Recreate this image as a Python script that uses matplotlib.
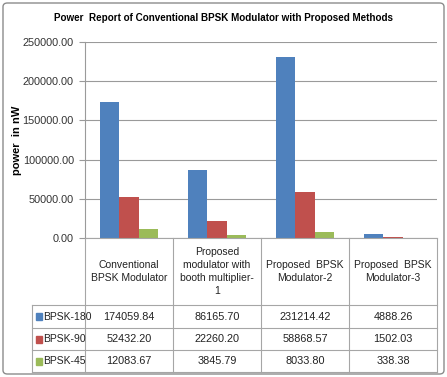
import matplotlib
matplotlib.use("Agg")
import matplotlib.pyplot as plt
from matplotlib.patches import FancyBboxPatch, Rectangle
import numpy as np

categories = ["Conventional\nBPSK Modulator",
              "Proposed\nmodulator with\nbooth multiplier-\n1",
              "Proposed  BPSK\nModulator-2",
              "Proposed  BPSK\nModulator-3"]
series_names = ["BPSK-180", "BPSK-90", "BPSK-45"]
bpsk180 = [174059.84, 86165.70, 231214.42, 4888.26]
bpsk90 = [52432.20, 22260.20, 58868.57, 1502.03]
bpsk45 = [12083.67, 3845.79, 8033.80, 338.38]
yticks = [0, 50000, 100000, 150000, 200000, 250000]
colors = ["#4F81BD", "#C0504D", "#9BBB59"]

plt.rcParams['font.family'] = ['Liberation Sans', 'DejaVu Sans']

W, H = 447, 377
fig = plt.figure(figsize=(W/100, H/100), dpi=100)
fig.patch.set_facecolor("white")

def fx(px): return px / W
def fy(py): return 1 - py / H

# outer border
fig.patches.append(FancyBboxPatch((fx(3), fy(374)), fx(441), 371/H,
                                  boxstyle="round,pad=0,rounding_size=0.01",
                                  transform=fig.transFigure, fill=False,
                                  edgecolor="#8c8c8c", linewidth=1.0))

L, R, T, B = 85, 437, 42, 238
ax = fig.add_axes([fx(L), fy(B), fx(R - L), (B - T)/H])
x = np.arange(len(categories))
bw = 0.222
data = [bpsk180, bpsk90, bpsk45]
for i, (vals, c) in enumerate(zip(data, colors)):
    ax.bar(x + (i - 1) * bw, vals, width=bw, color=c, zorder=3)
ax.set_xlim(-0.5, len(categories) - 0.5)
ax.set_ylim(0, 250000)
ax.set_yticks(yticks)
ax.set_yticklabels([f"{v:.2f}" for v in yticks], fontsize=7.8, color="#333333")
ax.set_xticks([])
ax.grid(axis="y", color="#9a9a9a", linewidth=0.8, zorder=0)
for s in ["top", "right", "bottom"]:
    ax.spines[s].set_visible(False)
ax.spines["left"].set_color("#9a9a9a")
ax.tick_params(axis="y", length=4, color="#9a9a9a", pad=4)
ax.set_ylabel("power  in nW", fontsize=8, fontweight="bold", labelpad=10)
ax.yaxis.set_label_coords(fx(22 - L) / fx(R - L), 0.5)

fig.text(fx(224), fy(18), "Power  Report of Conventional BPSK Modulator with Proposed Methods",
         ha="center", va="center", fontsize=7.1, fontweight="bold")

# data table
lc = "#a6a6a6"
TL, TB = 32, 372
header_bottom = 305
row_edges = [305, 328, 350, 372]
tax = fig.add_axes([fx(TL), fy(TB), fx(R - TL), (TB - B)/H])
tax.set_xlim(-0.5 - (L - TL) / ((R - L) / len(categories)), len(categories) - 0.5)
tax.set_ylim(TB, B)
tax.axis("off")
xl = tax.get_xlim()[0]
# vertical lines
for k in range(len(categories) + 1):
    tax.plot([k - 0.5, k - 0.5], [B, TB], color=lc, lw=0.8, clip_on=False)
tax.plot([xl, xl], [header_bottom, TB], color=lc, lw=0.8, clip_on=False)
# horizontal lines
tax.plot([-0.5, len(categories) - 0.5], [B, B], color=lc, lw=0.8, clip_on=False)
for yy in row_edges:
    tax.plot([xl, len(categories) - 0.5], [yy, yy], color=lc, lw=0.8, clip_on=False)
for k, c in enumerate(categories):
    tax.text(k, (B + header_bottom) / 2, c, ha="center", va="center",
             fontsize=7.5, color="#222222", linespacing=1.4)
for r, (name, vals, c) in enumerate(zip(series_names, data, colors)):
    yc = (row_edges[r] + row_edges[r + 1]) / 2
    tax.add_patch(Rectangle((xl + 0.04, yc - 3.5), 0.075, 7, color=c, clip_on=False))
    tax.text(xl + 0.13, yc, name, ha="left", va="center", fontsize=7.5, color="#222222")
    for k, v in enumerate(vals):
        tax.text(k, yc, f"{v:.2f}", ha="center", va="center", fontsize=7.8, color="#222222")

fig.savefig("out.png", dpi=100)
